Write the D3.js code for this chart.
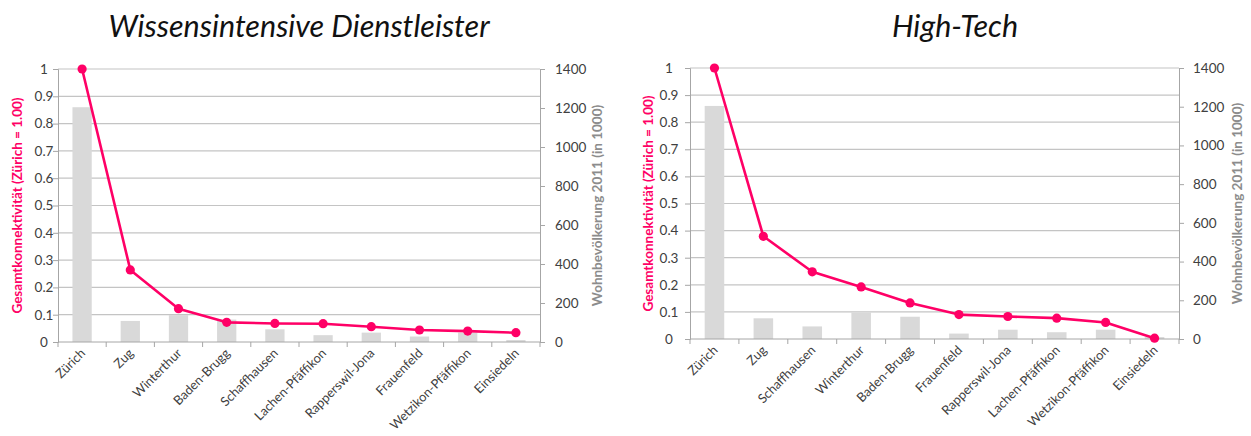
<!DOCTYPE html>
<html>
<head>
<meta charset="utf-8">
<script src="https://cdn.jsdelivr.net/npm/d3@7/dist/d3.min.js"></script>
<style>
  html, body { margin: 0; padding: 0; background: #ffffff; }
  svg { display: block; }
  text { font-family: Lato, "Open Sans", sans-serif; }
</style>
</head>
<body>
<svg id="chart" width="1251" height="436"></svg>
<script>
// Wissensintensive Dienstleister
const citiesWissen = ["Zürich", "Zug", "Winterthur", "Baden-Brugg", "Schaffhausen",
  "Lachen-Pfäffikon", "Rapperswil-Jona", "Frauenfeld", "Wetzikon-Pfäffikon", "Einsiedeln"];
const connectWissen = [1, 0.264, 0.122, 0.072, 0.068, 0.067, 0.056, 0.044, 0.040, 0.034];
const popWissen = [1204, 108, 138, 115, 65, 35, 48, 28, 48, 10];

// High-Tech
const citiesHighTech = ["Zürich", "Zug", "Schaffhausen", "Winterthur", "Baden-Brugg",
  "Frauenfeld", "Rapperswil-Jona", "Lachen-Pfäffikon", "Wetzikon-Pfäffikon", "Einsiedeln"];
const connectHighTech = [1, 0.379, 0.248, 0.192, 0.133, 0.090, 0.083, 0.077, 0.061, 0.003];
const popHighTech = [1204, 107, 65, 138, 115, 28, 48, 35, 48, 10];

// Axis ticks
const connectTicks = [0, 0.1, 0.2, 0.3, 0.4, 0.5, 0.6, 0.7, 0.8, 0.9, 1];
const popTicks = [0, 200, 400, 600, 800, 1000, 1200, 1400];

const leftTitle = "Gesamtkonnektivität (Zürich = 1.00)";
const rightTitle = "Wohnbevölkerung 2011 (in 1000)";

const PINK = "#ff0066";
const BAR = "#d9d9d9";
const GRID = "#c4c4c4";
const AXIS = "#a6a6a6";
const TEXT = "#404040";

const svg = d3.select("#chart");

function drawPanel(opt) {
  const g = svg.append("g");
  const x = d3.scaleBand().domain(opt.cities).range([opt.x0, opt.x1]).padding(0);
  const yL = d3.scaleLinear().domain([0, 1]).range([opt.yBot, opt.yTop]);
  const yR = d3.scaleLinear().domain([0, 1400]).range([opt.yBot, opt.yTop]);

  // title
  g.append("text")
    .attr("x", opt.titleX).attr("y", 37)
    .attr("text-anchor", "middle")
    .style("font-style", "italic")
    .style("font-size", "30.5px")
    .attr("fill", "#111")
    .text(opt.title);

  // horizontal gridlines
  g.selectAll("line.grid").data(connectTicks.slice(1)).join("line")
    .attr("class", "grid")
    .attr("x1", opt.x0).attr("x2", opt.x1)
    .attr("y1", d => yL(d)).attr("y2", d => yL(d))
    .attr("stroke", GRID).attr("stroke-width", 1.2);

  // population bars
  const bw = x.bandwidth() * 0.4;
  g.selectAll("rect.bar").data(opt.pop).join("rect")
    .attr("class", "bar")
    .attr("x", (d, i) => x(opt.cities[i]) + (x.bandwidth() - bw) / 2)
    .attr("width", bw)
    .attr("y", d => yR(d))
    .attr("height", d => yR(0) - yR(d))
    .attr("fill", BAR);

  // left axis
  const axL = g.append("g").attr("transform", `translate(${opt.x0},0)`)
    .call(d3.axisLeft(yL).tickValues(connectTicks).tickSize(5)
      .tickFormat(d => d === 0 ? "0" : d === 1 ? "1" : d3.format(".1f")(d)));
  axL.select(".domain").attr("stroke", AXIS);
  axL.selectAll(".tick line").attr("stroke", AXIS);
  axL.selectAll(".tick text")
    .attr("x", opt.leftLabelX - opt.x0)
    .attr("text-anchor", "middle")
    .attr("fill", TEXT)
    .style("font-family", "Lato, sans-serif")
    .style("font-size", "13.5px");

  // right axis
  const axR = g.append("g").attr("transform", `translate(${opt.x1},0)`)
    .call(d3.axisRight(yR).tickValues(popTicks).tickSize(5).tickFormat(d3.format("d")));
  axR.select(".domain").attr("stroke", AXIS);
  axR.selectAll(".tick line").attr("stroke", AXIS);
  axR.selectAll(".tick text")
    .attr("x", opt.rightLabelX - opt.x1)
    .attr("text-anchor", "start")
    .attr("fill", TEXT)
    .style("font-family", "Lato, sans-serif")
    .style("font-size", "13.5px");

  // category axis: baseline and ticks between categories
  g.append("line")
    .attr("x1", opt.x0).attr("x2", opt.x1)
    .attr("y1", opt.yBot).attr("y2", opt.yBot)
    .attr("stroke", AXIS).attr("stroke-width", 1);
  const bounds = d3.range(opt.cities.length + 1).map(i => opt.x0 + i * x.step());
  g.selectAll("line.xt").data(bounds).join("line")
    .attr("class", "xt")
    .attr("x1", d => d).attr("x2", d => d)
    .attr("y1", opt.yBot).attr("y2", opt.yBot + 5)
    .attr("stroke", AXIS);

  // rotated category labels
  g.selectAll("text.cat").data(opt.cities).join("text")
    .attr("class", "cat")
    .attr("text-anchor", "end")
    .attr("transform", d => `translate(${x(d) + x.bandwidth() / 2 + 4},${opt.yBot + 12}) rotate(-45)`)
    .attr("fill", TEXT)
    .style("font-size", "12.8px")
    .text(d => d);

  // connectivity line with markers
  const line = d3.line()
    .x((d, i) => x(opt.cities[i]) + x.bandwidth() / 2)
    .y(d => yL(d));
  g.append("path").datum(opt.connect)
    .attr("d", line)
    .attr("fill", "none")
    .attr("stroke", PINK)
    .attr("stroke-width", 2.6)
    .attr("stroke-linejoin", "round");
  g.selectAll("circle.pt").data(opt.connect).join("circle")
    .attr("class", "pt")
    .attr("cx", (d, i) => x(opt.cities[i]) + x.bandwidth() / 2)
    .attr("cy", d => yL(d))
    .attr("r", 4.6)
    .attr("fill", PINK);

  // axis titles
  const midY = (opt.yTop + opt.yBot) / 2;
  g.append("text")
    .attr("transform", `translate(${opt.leftTitleX},${midY}) rotate(-90)`)
    .attr("text-anchor", "middle")
    .attr("dominant-baseline", "central")
    .style("font-weight", "bold")
    .style("font-size", "13.5px")
    .attr("fill", PINK)
    .text(leftTitle);
  g.append("text")
    .attr("transform", `translate(${opt.rightTitleX},${midY}) rotate(-90)`)
    .attr("text-anchor", "middle")
    .attr("dominant-baseline", "central")
    .style("font-weight", "bold")
    .style("font-size", "13.5px")
    .attr("fill", "#8c8c8c")
    .text(rightTitle);
}

drawPanel({
  title: "Wissensintensive Dienstleister",
  cities: citiesWissen, connect: connectWissen, pop: popWissen,
  x0: 58, x1: 540, yTop: 69, yBot: 342,
  titleX: 299, leftTitleX: 17, leftLabelX: 44, rightLabelX: 555, rightTitleX: 597
});

drawPanel({
  title: "High-Tech",
  cities: citiesHighTech, connect: connectHighTech, pop: popHighTech,
  x0: 690, x1: 1179, yTop: 68, yBot: 339,
  titleX: 955, leftTitleX: 648, leftLabelX: 669, rightLabelX: 1193, rightTitleX: 1237
});
</script>
</body>
</html>
